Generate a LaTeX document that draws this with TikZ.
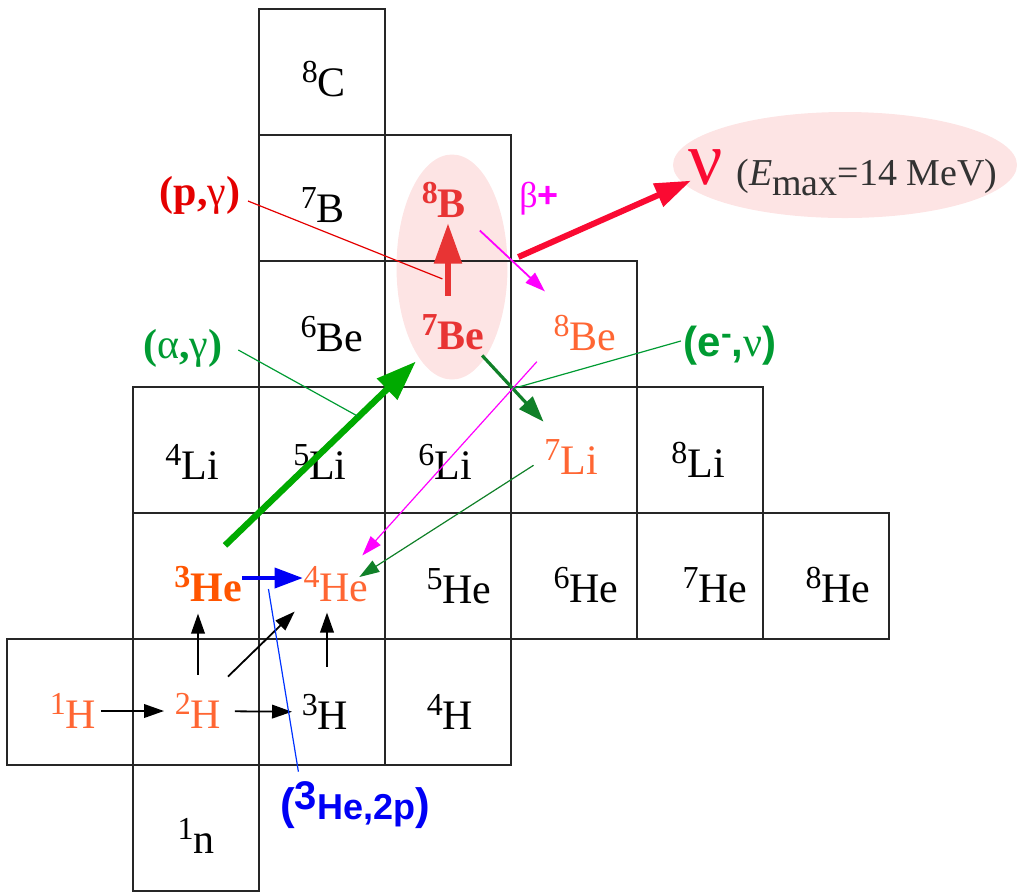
\documentclass[tikz,border=0pt]{standalone}
\usepackage{fontspec}
\setmainfont{Liberation Serif}
\setsansfont{Liberation Sans}
\usepackage{tikz}
\usetikzlibrary{shapes.geometric, arrows.meta}

\definecolor{isoorange}{RGB}{255,102,51}
\definecolor{hethree}{RGB}{255,85,0}
\definecolor{bered}{RGB}{232,52,52}
\definecolor{nured}{RGB}{250,10,50}
\definecolor{capred}{RGB}{228,0,0}
\definecolor{alphagreen}{RGB}{0,170,0}
\definecolor{leafgreen}{RGB}{0,155,50}
\definecolor{darkgreen}{RGB}{16,128,40}
\definecolor{betamag}{RGB}{255,0,255}
\definecolor{hepblue}{RGB}{0,0,245}
\definecolor{glowpink}{RGB}{253,228,228}

\newcommand{\iso}[2]{\raisebox{3.5pt}{\fontsize{8}{8}\selectfont#1}#2}

\tikzstyle{cellbox}   = [draw=black!85, line width=0.7pt]
\tikzstyle{iso}       = [inner sep=1pt, font=\fontsize{10.5}{12}\selectfont]
\tikzstyle{tag}       = [inner sep=1pt, font=\fontsize{10.5}{12}\selectfont]
\tikzstyle{glow}      = [ellipse, fill=glowpink, inner sep=0pt]
\tikzstyle{thinarrow} = [line width=0.45pt, -{Triangle[length=5pt,width=3.4pt]}]
\tikzstyle{fatarrow}  = [line width=1.6pt, -{Triangle[length=10pt,width=7pt]}]
\tikzstyle{leader}    = [line width=0.3pt]

\begin{document}
\begin{tikzpicture}[x=0.25pt, y=-0.25pt]
  \useasboundingbox (0,0) rectangle (1019,892);

  \node[glow, minimum width=27.75pt, minimum height=56.25pt] (pairglow) at (452,267) {};
  \node[glow, minimum width=86pt, minimum height=26.5pt] (nuglow) at (845,165) {};

  % chart of nuclides
  \foreach \cx/\cy in {2/0, 2/1, 3/1, 2/2, 3/2, 4/2, 1/3, 2/3, 3/3, 4/3, 5/3,
                       1/4, 2/4, 3/4, 4/4, 5/4, 6/4, 0/5, 1/5, 2/5, 3/5, 1/6}
    \draw[cellbox] ({7+126*\cx},{9+126*\cy}) rectangle ++(126,126);

  \node[iso] (C8)  at (324,79)  {\iso{8}{C}};
  \node[iso] (B7)  at (323,205) {\iso{7}{B}};
  \node[iso, text=bered, font=\fontsize{10.5}{12}\selectfont\bfseries] (B8) at (444,200) {\iso{8}{B}};
  \node[iso] (Be6) at (332,334) {\iso{6}{Be}};
  \node[iso, text=bered, font=\fontsize{10.5}{12}\selectfont\bfseries] (Be7) at (453,332) {\iso{7}{Be}};
  \node[iso, text=isoorange] (Be8) at (585,333) {\iso{8}{Be}};
  \node[iso] (Li4) at (192,462) {\iso{4}{Li}};
  \node[iso] (Li5) at (320,462) {\iso{5}{Li}};
  \node[iso] (Li6) at (445,462) {\iso{6}{Li}};
  \node[iso, text=isoorange] (Li7) at (571,457) {\iso{7}{Li}};
  \node[iso] (Li8) at (698,460) {\iso{8}{Li}};
  \node[iso, text=hethree, font=\fontsize{10.5}{12}\selectfont\bfseries] (He3) at (208,584) {\iso{3}{He}};
  \node[iso, text=isoorange] (He4) at (336,584) {\iso{4}{He}};
  \node[iso] (He5) at (459,586) {\iso{5}{He}};
  \node[iso] (He6) at (586,585) {\iso{6}{He}};
  \node[iso] (He7) at (715,585) {\iso{7}{He}};
  \node[iso] (He8) at (838,585) {\iso{8}{He}};
  \node[iso, text=isoorange] (H1) at (73,711)  {\iso{1}{H}};
  \node[iso, text=isoorange] (H2) at (198,711) {\iso{2}{H}};
  \node[iso] (H3)  at (325,712) {\iso{3}{H}};
  \node[iso] (H4)  at (450,712) {\iso{4}{H}};
  \node[iso] (n1)  at (196,836) {\iso{1}{n}};

  % reaction labels
  \node[tag, text=capred] (pg) at (200,195) {{\bfseries(p,}γ{\bfseries)}};
  \node[tag, text=leafgreen] (ag) at (183,348) {{\bfseries(}α{\bfseries,}γ{\bfseries)}};
  \node[tag, text=leafgreen, font=\fontsize{10.5}{12}\selectfont\sffamily\bfseries] (en) at (730,346)
    {(e\raisebox{3pt}{\fontsize{8}{8}\selectfont -},{\rmfamily\mdseries ν})};
  \node[tag, text=hepblue, font=\sffamily\bfseries] (hepp) at (355,805)
    {{\fontsize{11}{12}\selectfont(}\raisebox{2.5pt}{\fontsize{10}{10}\selectfont 3}{\fontsize{9}{10}\selectfont He,2p}{\fontsize{11}{12}\selectfont)}};
  \node[tag, text=betamag, font=\fontsize{9}{10}\selectfont] (bplus) at (539,199) {β\textsf{\bfseries +}};
  \node[tag, text=nured, font=\fontsize{19}{20}\selectfont] (nu) at (706,167) {ν};
  \node[tag, text=black!80, font=\fontsize{9.5}{11}\selectfont] (emax) at (867,177)
    {(\textit{E}\raisebox{-2.5pt}{max}=14 MeV)};

  % pp chain
  \draw[thinarrow, shorten >=1.5pt] (H1) -- (H2);
  \draw[thinarrow, shorten <=2.25pt, shorten >=1.25pt] (H2) -- (H3);
  \draw[thinarrow, shorten >=1.75pt] ([shift={(0,-14)}]H2.north) -- (H2.north |- He3.south);
  \draw[thinarrow] ([shift={(2,-12)}]H2.north east) -- ([shift={(-4,5)}]He4.south west);
  \draw[thinarrow] ([shift={(2,-23)}]H3.north) -- ([shift={(-9,6)}]He4.south);
  \draw[hepblue, line width=0.9pt, -{Triangle[length=7pt,width=5pt]}]
    ([shift={(-4,-6)}]He3.east) -- ([shift={(4,-6)}]He4.west);

  % pp-II / pp-III branches
  \draw[fatarrow, alphagreen] ([shift={(17,-16)}]He3.north) -- coordinate[pos=0.7] (agfoot)
    ([shift={(-1,7)}]Be7.south west);
  \draw[bered, line width=1.3pt, -{Triangle[length=10pt,width=6.75pt]}]
    ([shift={(-5,-14)}]Be7.north) -- coordinate[pos=0.2] (pgfoot) ([shift={(4,1)}]B8.south);
  \draw[betamag, thinarrow] ([shift={(9,8)}]B8.south east) -- ([shift={(-4,-19)}]Be8.north west);
  \draw[nured, line width=1.5pt, -{Triangle[length=9pt,width=6pt]}]
    ([shift={(10,-10)}]pairglow.east) -- ([shift={(7,-9)}]nu.south west);
  \draw[darkgreen, line width=0.8pt, -{Triangle[length=6.5pt,width=4.5pt]}]
    ([shift={(-7,1)}]Be7.south east) -- coordinate[pos=0.5] (enfoot) ([shift={(4,-13)}]Li7.north west);
  \draw[betamag, leader, -{Triangle[length=5pt,width=3.3pt]}]
    ([shift={(-12,6)}]Be8.south west) -- ([shift={(-11,-6)}]He4.north east);
  \draw[darkgreen, leader, -{Triangle[length=5pt,width=3.3pt]}]
    ([shift={(-6,-14)}]Li7.south west) -- ([shift={(-14,-7)}]He4.east);

  % leaders
  \draw[leader, capred, shorten >=1.5pt] ([shift={(3,6)}]pg.east) -- (pgfoot);
  \draw[leader, leafgreen] ([shift={(11,2)}]ag.east) -- (agfoot);
  \draw[leader, leafgreen] ([shift={(2,-5)}]en.west) -- (enfoot);
  \draw[leader, blue!80!cyan] ([shift={(22,5)}]He3.east) -- ([shift={(23,-5)}]hepp.north west);
\end{tikzpicture}
\end{document}
